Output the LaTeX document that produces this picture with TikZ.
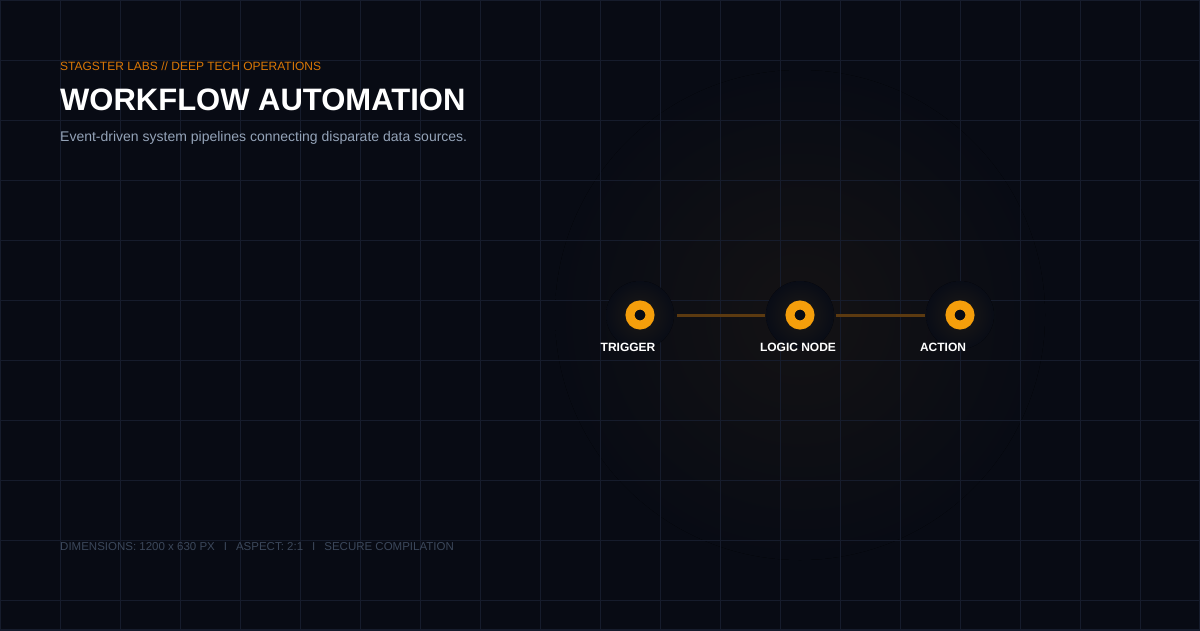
\documentclass[tikz,border=0pt]{standalone}
\usepackage{fontspec}
\setmainfont{Liberation Sans}
\definecolor{bg}{HTML}{080B14}
\definecolor{gridc}{HTML}{161C2C}
\definecolor{orng}{HTML}{F59E0B}
\definecolor{tag}{HTML}{D97706}
\definecolor{sub}{HTML}{94A3B8}
\definecolor{foot}{HTML}{3B475A}
\definecolor{wire}{HTML}{5C3A10}
\definecolor{halo}{HTML}{0A0E18}
\begin{document}
\begin{tikzpicture}[x=1pt,y=-1pt,
  dot/.style={circle,draw=orng,line width=9pt,minimum size=20pt,inner sep=0pt,fill=bg},
  lbl/.style={font=\bfseries\fontsize{12}{14}\selectfont,text=white,inner sep=0pt},
  wirec/.style={wire,line width=3pt}]
\fill[bg] (0,0) rectangle (1200,630);
\useasboundingbox (0,0) rectangle (1200,630);
\fill[inner color=orng!5!bg,outer color=bg] (800,315) circle (245);
\foreach \i in {60,120,...,1140} \draw[gridc,line width=1pt] (\i,0) -- (\i,630);
\foreach \j in {60,120,...,600} \draw[gridc,line width=1pt] (0,\j) -- (1200,\j);
\draw[gridc,line width=2pt] (0,0) rectangle (1200,630);
\node[anchor=base west,inner sep=0pt,text=tag,font=\fontsize{12}{14}\selectfont] (tagl) at (60,70) {STAGSTER LABS // DEEP TECH OPERATIONS};
\node[anchor=base west,inner sep=0pt,text=white,font=\bfseries\fontsize{31}{36}\selectfont] (title) at (60,110) {WORKFLOW AUTOMATION};
\node[anchor=base west,inner sep=0pt,text=sub,font=\fontsize{14}{16}\selectfont] (subl) at (60,141) {Event-driven system pipelines connecting disparate data sources.};
\node[anchor=base west,inner sep=0pt,text=foot,font=\fontsize{11.5}{14}\selectfont] (footl) at (60,550) {DIMENSIONS: 1200 x 630 PX\hspace{9pt}I\hspace{9pt}ASPECT: 2:1\hspace{9pt}I\hspace{9pt}SECURE COMPILATION};
\foreach \x/\n in {640/t,800/l,960/a}{
  \fill[inner color=orng!8!halo,outer color=bg!60!halo] (\x,315) circle (34);
  \node[dot] (\n) at (\x,315) {};
}
\draw[wirec] ([xshift=37pt]t.center) -- ([xshift=-35pt]l.center);
\draw[wirec] ([xshift=36pt]l.center) -- ([xshift=-35pt]a.center);
\node[lbl,anchor=base] (tl) at (628,351) {TRIGGER};
\node[lbl,anchor=base] (ll) at (798,351) {LOGIC NODE};
\node[lbl,anchor=base] (al) at (943,351) {ACTION};
\end{tikzpicture}
\end{document}
